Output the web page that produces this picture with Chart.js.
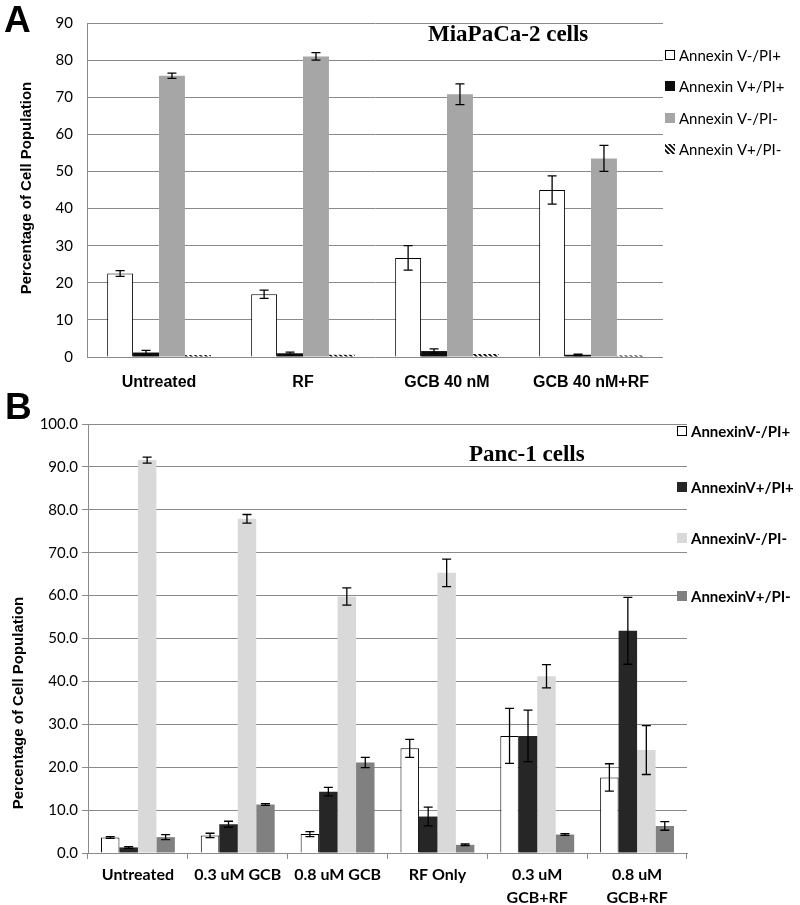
<!DOCTYPE html>
<html>
<head>
<meta charset="utf-8">
<script src="https://cdn.jsdelivr.net/npm/chart.js@4/dist/chart.umd.min.js"></script>
<style>
  body { margin: 0; background: #fff; width: 800px; height: 905px; position: relative; overflow: hidden; }
  canvas { position: absolute; left: 0; }
  #chartA { top: 0; }
  #chartB { top: 390px; }
</style>
</head>
<body>
<canvas id="chartA" width="800" height="390"></canvas>
<canvas id="chartB" width="800" height="515"></canvas>
<script>
// ---------- panel A data (MiaPaCa-2) ----------
var catsA = ['Untreated', 'RF', 'GCB 40 nM', 'GCB 40 nM+RF']
var ticksA = [0, 10, 20, 30, 40, 50, 60, 70, 80, 90]
var labelsA = ['Annexin V-/PI+', 'Annexin V+/PI+', 'Annexin V-/PI-', 'Annexin V+/PI-']
var aNegPos = [22.5, 16.9, 26.7, 45.0]
var aNegPosErr = [0.8, 1.1, 3.3, 3.8]
var aPosPos = [1.2, 1.0, 1.6, 0.6]
var aPosPosErr = [0.6, 0.3, 0.6, 0.2]
var aNegNeg = [75.8, 81.0, 70.8, 53.5]
var aNegNegErr = [0.7, 1.0, 2.8, 3.5]
var aPosNeg = [0.5, 0.6, 0.8, 0.4]

// ---------- panel B data (Panc-1) ----------
var catsB = ['Untreated', '0.3 uM GCB', '0.8 uM GCB', 'RF Only', ['0.3 uM', 'GCB+RF'], ['0.8 uM', 'GCB+RF']]
var ticksB = [0, 10, 20, 30, 40, 50, 60, 70, 80, 90, 100]
var labelsB = ['AnnexinV-/PI+', 'AnnexinV+/PI+', 'AnnexinV-/PI-', 'AnnexinV+/PI-']
var bNegPos = [3.6, 4.1, 4.4, 24.4, 27.3, 17.6]
var bNegPosErr = [0.2, 0.5, 0.6, 2.1, 6.4, 3.2]
var bPosPos = [1.3, 6.7, 14.3, 8.5, 27.3, 51.8]
var bPosPosErr = [0.2, 0.7, 1.0, 2.2, 6.0, 7.8]
var bNegNeg = [91.6, 77.9, 59.8, 65.3, 41.2, 24.0]
var bNegNegErr = [0.7, 1.0, 2.0, 3.2, 2.7, 5.7]
var bPosNeg = [3.7, 11.3, 21.1, 1.9, 4.3, 6.3]
var bPosNegErr = [0.6, 0.2, 1.2, 0.2, 0.2, 1.0]

var yTitle = 'Percentage of Cell Population'

// hatch pattern for Annexin V+/PI- in panel A
function makeHatch() {
    var c = document.createElement('canvas')
    c.width = 5; c.height = 5
    var g = c.getContext('2d')
    g.fillStyle = '#fff'
    g.fillRect(0, 0, 5, 5)
    g.strokeStyle = '#000'
    g.lineWidth = 1.8
    g.beginPath()
    g.moveTo(-1, -1); g.lineTo(6, 6)
    g.moveTo(-4, 1); g.lineTo(4, 9)
    g.moveTo(1, -4); g.lineTo(9, 4)
    g.stroke()
    return g.createPattern(c, 'repeat')
}
var hatch = makeHatch()

// error bars drawn from the dataset's err array
var errorBars = {
    id: 'errorBars',
    afterDatasetsDraw(chart) {
        var ctx = chart.ctx
        var y = chart.scales.y
        chart.data.datasets.forEach((ds, i) => {
            if (!ds.err) return
            var meta = chart.getDatasetMeta(i)
            meta.data.forEach((bar, j) => {
                var e = ds.err[j]
                if (!e) return
                var v = ds.data[j]
                var top = y.getPixelForValue(v + e)
                var bot = y.getPixelForValue(Math.max(0, v - e))
                var cap = 4.5
                ctx.save()
                ctx.strokeStyle = '#000'
                ctx.lineWidth = 1.3
                ctx.beginPath()
                ctx.moveTo(bar.x, top); ctx.lineTo(bar.x, bot)
                ctx.moveTo(bar.x - cap, top); ctx.lineTo(bar.x + cap, top)
                ctx.moveTo(bar.x - cap, bot); ctx.lineTo(bar.x + cap, bot)
                ctx.stroke()
                ctx.restore()
            })
        })
    }
}

// panel letter, title, y-axis title and legend drawn as text
var decorations = {
    id: 'decorations',
    afterDraw(chart, args, opts) {
        var ctx = chart.ctx
        ctx.save()
        ctx.fillStyle = '#000'
        ctx.textBaseline = 'alphabetic'
        ctx.font = 'bold 37px "Liberation Sans", Arial'
        ctx.fillText(opts.letter, opts.letterX, opts.letterY)
        ctx.font = 'bold 23px "Liberation Serif", "Times New Roman", serif'
        ctx.fillText(opts.title, opts.titleX, opts.titleY)

        // rotated y-axis title
        ctx.save()
        ctx.translate(opts.yTitleX, opts.yTitleY)
        ctx.rotate(-Math.PI / 2)
        ctx.textAlign = 'center'
        ctx.textBaseline = 'middle'
        ctx.font = 'bold ' + opts.yTitleSize + 'px "Liberation Sans", Arial'
        ctx.fillText(yTitle, 0, 0)
        ctx.restore()

        ctx.font = opts.legendFont
        ctx.textBaseline = 'middle'
        chart.data.datasets.forEach((ds, i) => {
            var ly = opts.legendY[i]
            var s = opts.box
            ctx.fillStyle = ds.backgroundColor
            ctx.fillRect(opts.legendX, ly - s / 2, s, s)
            if (ds.borderWidth) {
                ctx.strokeStyle = '#000'
                ctx.lineWidth = 1
                ctx.strokeRect(opts.legendX + 0.5, ly - s / 2 + 0.5, s - 1, s - 1)
            }
            ctx.fillStyle = '#000'
            ctx.fillText(ds.label, opts.legendX + s + 4, ly + 1)
        })
        ctx.restore()
    }
}

function fixWidth(w) { return function (scale) { scale.width = w } }
function fixHeight(h) { return function (scale) { scale.height = h } }

// ---------- panel A ----------
new Chart(document.getElementById('chartA'), {
    type: 'bar',
    data: {
        labels: catsA,
        datasets: [
            { label: labelsA[0], data: aNegPos, err: aNegPosErr, backgroundColor: '#ffffff', borderColor: '#000', borderWidth: 1 },
            { label: labelsA[1], data: aPosPos, err: aPosPosErr, backgroundColor: '#0d0d0d' },
            { label: labelsA[2], data: aNegNeg, err: aNegNegErr, backgroundColor: '#a6a6a6' },
            { label: labelsA[3], data: aPosNeg, backgroundColor: hatch }
        ]
    },
    options: {
        responsive: false,
        animation: false,
        events: [],
        layout: { padding: { left: 0, right: 137, top: 19, bottom: 0 } },
        datasets: { bar: { categoryPercentage: 0.72, barPercentage: 1 } },
        plugins: {
            legend: { display: false },
            tooltip: { enabled: false },
            decorations: {
                letter: 'A', letterX: 4, letterY: 32,
                title: 'MiaPaCa-2 cells', titleX: 428, titleY: 41,
                yTitleX: 27, yTitleY: 188, yTitleSize: 15,
                legendX: 665, legendY: [55, 86, 118, 149], box: 10,
                legendFont: '15px Lato, "Open Sans", sans-serif'
            }
        },
        scales: {
            x: {
                afterFit: fixHeight(33),
                grid: { display: false },
                border: { display: false },
                ticks: { color: '#000', font: { family: '"Liberation Sans", Arial', size: 16, weight: 'bold' }, padding: 8, maxRotation: 0 }
            },
            y: {
                min: 0, max: 90,
                afterFit: fixWidth(87),
                afterBuildTicks: function (scale) { scale.ticks = ticksA.map(v => ({ value: v })) },
                grid: { color: '#8a8a8a', lineWidth: 1, drawTicks: false },
                border: { display: true, color: '#8a8a8a' },
                ticks: { color: '#000', font: { family: 'Lato, "Open Sans", sans-serif', size: 15 }, padding: 14 }
            }
        }
    },
    plugins: [errorBars, decorations]
})

// ---------- panel B ----------
new Chart(document.getElementById('chartB'), {
    type: 'bar',
    data: {
        labels: catsB,
        datasets: [
            { label: labelsB[0], data: bNegPos, err: bNegPosErr, backgroundColor: '#ffffff', borderColor: '#000', borderWidth: 1 },
            { label: labelsB[1], data: bPosPos, err: bPosPosErr, backgroundColor: '#262626' },
            { label: labelsB[2], data: bNegNeg, err: bNegNegErr, backgroundColor: '#d9d9d9' },
            { label: labelsB[3], data: bPosNeg, err: bPosNegErr, backgroundColor: '#808080' }
        ]
    },
    options: {
        responsive: false,
        animation: false,
        events: [],
        layout: { padding: { left: 0, right: 113, top: 34, bottom: 0 } },
        datasets: { bar: { categoryPercentage: 0.74, barPercentage: 1 } },
        plugins: {
            legend: { display: false },
            tooltip: { enabled: false },
            decorations: {
                letter: 'B', letterX: 5, letterY: 29,
                title: 'Panc-1 cells', titleX: 469, titleY: 71,
                yTitleX: 19, yTitleY: 313, yTitleSize: 15,
                legendX: 677, legendY: [41, 97, 148, 206], box: 10,
                legendFont: 'bold 15px Lato, "Open Sans", sans-serif'
            }
        },
        scales: {
            x: {
                afterFit: fixHeight(52),
                grid: { display: true, drawOnChartArea: false, drawTicks: true, tickLength: 6, color: '#8a8a8a', offset: true },
                border: { display: true, color: '#8a8a8a' },
                ticks: { color: '#000', font: { family: 'Lato, "Open Sans", sans-serif', size: 16, weight: 'bold', lineHeight: 1.4 }, padding: 5, maxRotation: 0 }
            },
            y: {
                min: 0, max: 100,
                afterFit: fixWidth(88),
                afterBuildTicks: function (scale) { scale.ticks = ticksB.map(v => ({ value: v })) },
                grid: { color: '#8a8a8a', lineWidth: 1, drawTicks: true, tickLength: 6 },
                border: { display: true, color: '#8a8a8a' },
                ticks: { color: '#000', font: { family: 'Lato, "Open Sans", sans-serif', size: 15 }, padding: 4, callback: v => v.toFixed(1) }
            }
        }
    },
    plugins: [errorBars, decorations]
})
</script>
</body>
</html>
